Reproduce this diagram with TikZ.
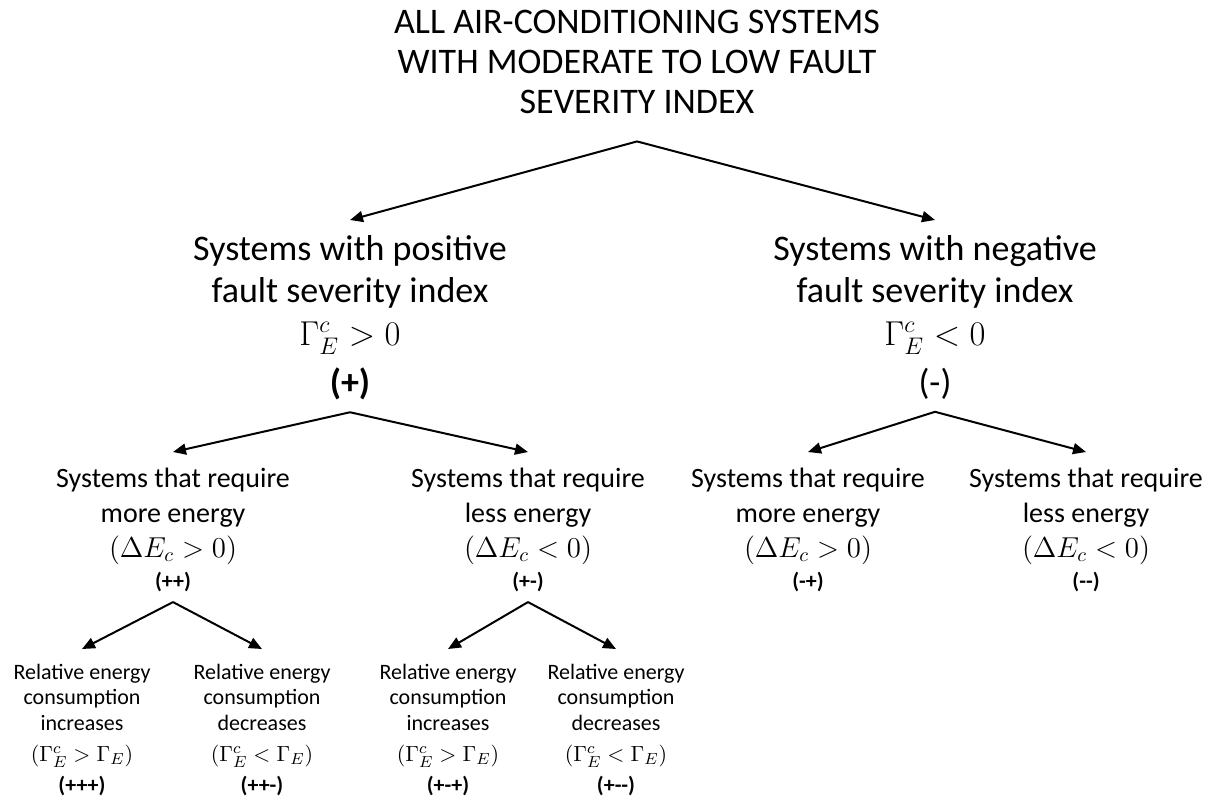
\documentclass[tikz,border=0pt]{standalone}
\usepackage{amsmath}
\usepackage[no-math]{fontspec}
\setmainfont{Carlito}
\usetikzlibrary{arrows.meta, positioning}

\newcommand{\casetag}[1]{{\fontsize{11}{13}\selectfont\bfseries #1}}

\begin{document}
\begin{tikzpicture}[x=0.5pt, y=-0.5pt, >={Triangle[length=6.5pt, width=5.5pt]},
  every node/.style={inner sep=0pt, align=center},
  titlebox/.style={font=\fontsize{18}{20}\selectfont},
  groupbox/.style={font=\fontsize{18}{21}\selectfont},
  classbox/.style={font=\fontsize{14}{17.25}\selectfont},
  leafbox/.style={font=\fontsize{11}{13.25}\selectfont},
  branch/.style={->, line width=1pt}]
  \useasboundingbox (0,0) rectangle (1214,799);

  % Racine
  \node[titlebox, anchor=north] (all) at (637,10)
      {ALL AIR-CONDITIONING SYSTEMS\\WITH MODERATE TO LOW FAULT\\SEVERITY INDEX};

  % Niveau 1 : signe de l'indice
  \node[groupbox, anchor=north] (pos) at (350,235)
      {Systems with positive\\fault severity index\\[0.5pt]$\Gamma_E^c > 0$\\[3.5pt]\textbf{(+)}};
  \node[groupbox, anchor=north] (neg) at (935,235)
      {Systems with negative\\fault severity index\\[0.5pt]$\Gamma_E^c < 0$\\[3.5pt](-)};

  % Niveau 2 : besoin en energie
  \node[classbox, anchor=north] (pp) at (173,468)
      {Systems that require\\more energy\\[0.25pt]$(\Delta E_c > 0)$\\[-1.75pt]\casetag{(++)}};
  \node[classbox, anchor=north] (pm) at (528,468)
      {Systems that require\\less energy\\[0.25pt]$(\Delta E_c < 0)$\\[-1.75pt]\casetag{(+-)}};
  \node[classbox, anchor=north] (np) at (808,468)
      {Systems that require\\more energy\\[0.25pt]$(\Delta E_c > 0)$\\[-1.75pt]\casetag{(-+)}};
  \node[classbox, anchor=north] (nm) at (1086,468)
      {Systems that require\\less energy\\[0.25pt]$(\Delta E_c < 0)$\\[-1.75pt]\casetag{(-{}-)}};

  % Niveau 3 : consommation relative
  \node[leafbox, anchor=north] (ppp) at (82,664)
      {Relative energy\\[-1pt]consumption\\increases\\[2pt]$(\Gamma_E^c > \Gamma_E)$\\[2.5pt]\casetag{(+++)}};
  \node[leafbox, anchor=north] (ppm) at (262,664)
      {Relative energy\\[-1pt]consumption\\decreases\\[2pt]$(\Gamma_E^c < \Gamma_E)$\\[2.5pt]\casetag{(++-)}};
  \node[leafbox, anchor=north] (pmp) at (448,664)
      {Relative energy\\[-1pt]consumption\\increases\\[2pt]$(\Gamma_E^c > \Gamma_E)$\\[2.5pt]\casetag{(+-{}+)}};
  \node[leafbox, anchor=north] (pmm) at (616,664)
      {Relative energy\\[-1pt]consumption\\decreases\\[2pt]$(\Gamma_E^c < \Gamma_E)$\\[2.5pt]\casetag{(+-{}-)}};

  % Fleches
  \draw[branch] ([yshift=-13.5pt]all.south) -- ([yshift=7.5pt]pos.north);
  \draw[branch] ([yshift=-13.5pt]all.south) -- ([yshift=7.5pt]neg.north);
  \foreach \from/\to in {pos/pp, pos/pm, neg/np, neg/nm}
    \draw[branch] ([yshift=-6pt]\from.south) -- ([yshift=8pt]\to.north);
  \foreach \from/\to in {pp/ppp, pp/ppm, pm/pmp, pm/pmm}
    \draw[branch] ([yshift=-5pt]\from.south) -- ([yshift=7.5pt]\to.north);
\end{tikzpicture}
\end{document}
